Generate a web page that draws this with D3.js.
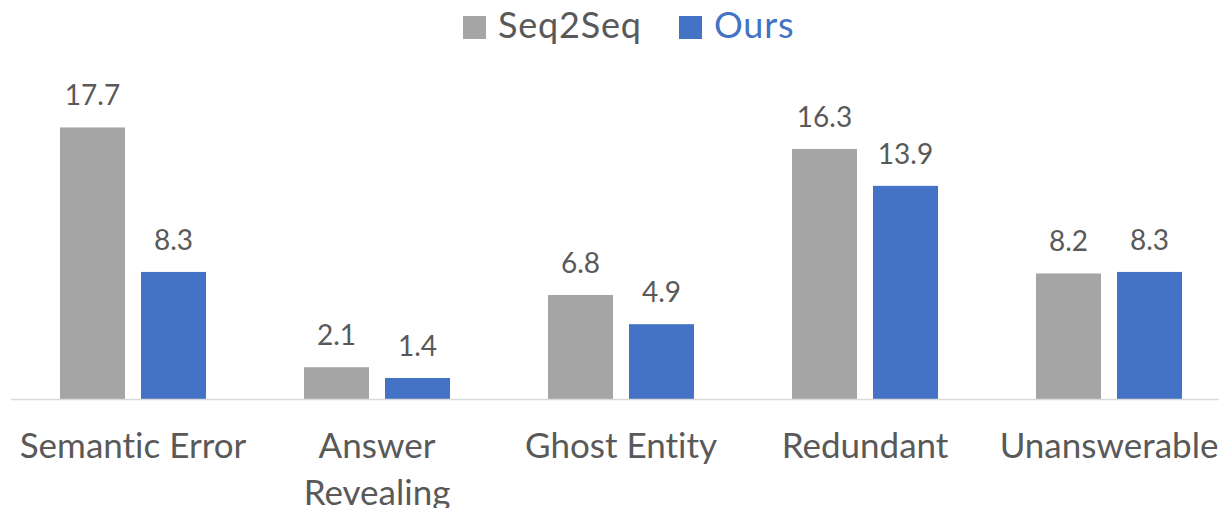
<!DOCTYPE html>
<html>
<head>
<meta charset="utf-8">
<script src="https://cdn.jsdelivr.net/npm/d3@7"></script>
<style>
  html, body { margin: 0; padding: 0; background: #ffffff; }
  svg { display: block; }
  text { font-family: Lato, "Open Sans", sans-serif; font-variant-ligatures: none; }
</style>
</head>
<body>
<svg id="chart" width="1219" height="508"></svg>
<script>
// Error-type counts for the two systems
const categories = ["Semantic Error", "Answer Revealing", "Ghost Entity", "Redundant", "Unanswerable"];
const seriesNames = ["Seq2Seq", "Ours"];
const seq2seqValues = [17.7, 2.1, 6.8, 16.3, 8.2];
const oursValues = [8.3, 1.4, 4.9, 13.9, 8.3];
const seriesColors = ["#a5a5a5", "#4472c4"];

const rows = categories.map((c, i) => ({
  category: c,
  values: [
    { series: seriesNames[0], value: seq2seqValues[i] },
    { series: seriesNames[1], value: oursValues[i] }
  ]
}));

const svg = d3.select("#chart");
const textColor = "#595959";

// Plot geometry
const plotLeft = 11, plotRight = 1231;
const baseY = 399.5, topY = 92.1;

const x0 = d3.scaleBand().domain(categories).range([plotLeft, plotRight]).padding(0);
const barW = 65, barGap = 16;
const step = barW + barGap;
const outer = (x0.bandwidth() / step - 2 + barGap / step) / 2;
const x1 = d3.scaleBand().domain(seriesNames).range([0, x0.bandwidth()])
  .paddingInner(barGap / step).paddingOuter(outer);
const y = d3.scaleLinear().domain([0, 20]).range([baseY, topY]);
const color = d3.scaleOrdinal().domain(seriesNames).range(seriesColors);

// Bars
const groups = svg.append("g").selectAll("g").data(rows).join("g")
  .attr("transform", d => `translate(${x0(d.category)},0)`);

groups.selectAll("rect").data(d => d.values).join("rect")
  .attr("x", d => x1(d.series))
  .attr("width", x1.bandwidth())
  .attr("y", d => y(d.value))
  .attr("height", d => y(0) - y(d.value))
  .attr("fill", d => color(d.series));

// Value labels above the bars
groups.selectAll("text.value").data(d => d.values).join("text")
  .attr("class", "value")
  .attr("x", d => x1(d.series) + x1.bandwidth() / 2)
  .attr("y", d => y(d.value) - 22)
  .attr("text-anchor", "middle")
  .attr("font-size", 28)
  .attr("fill", textColor)
  .text(d => d.value.toFixed(1));

// Category axis
const xAxis = svg.append("g")
  .attr("transform", `translate(0,${baseY})`)
  .call(d3.axisBottom(x0).tickSize(0).tickPadding(0));
xAxis.select(".domain").remove();
svg.append("line")
  .attr("x1", plotLeft).attr("x2", 1219)
  .attr("y1", baseY).attr("y2", baseY)
  .attr("stroke", "#d9d9d9").attr("stroke-width", 1.5);

const maxLabelWidth = x0.bandwidth() - 8;
const lineHeight = 47;
xAxis.selectAll(".tick text")
  .attr("font-size", 35)
  .attr("fill", textColor)
  .attr("y", 0)
  .attr("dy", 0)
  .each(function (d) {
    // word-wrap each label to the width of its band
    const t = d3.select(this);
    const words = d.split(" ");
    t.text(null);
    let line = [];
    let lineNo = 0;
    let tspan = t.append("tspan").attr("x", 0).attr("y", 58.5);
    words.forEach(w => {
      line.push(w);
      tspan.text(line.join(" "));
      if (tspan.node().getComputedTextLength() > maxLabelWidth && line.length > 1) {
        line.pop();
        tspan.text(line.join(" "));
        line = [w];
        lineNo++;
        tspan = t.append("tspan").attr("x", 0).attr("y", 58.5 + lineNo * lineHeight).text(w);
      }
    });
  });

// Legend
const legend = svg.append("g");
const legendItems = [
  { name: seriesNames[0], x: 463, textColor: textColor },
  { name: seriesNames[1], x: 679, textColor: seriesColors[1] }
];
legendItems.forEach(item => {
  legend.append("rect")
    .attr("x", item.x).attr("y", 16)
    .attr("width", 23).attr("height", 23)
    .attr("fill", color(item.name));
  legend.append("text")
    .attr("x", item.x + 35).attr("y", 38)
    .attr("font-size", 36)
    .attr("letter-spacing", 0.8)
    .attr("fill", item.textColor)
    .text(item.name);
});
</script>
</body>
</html>
